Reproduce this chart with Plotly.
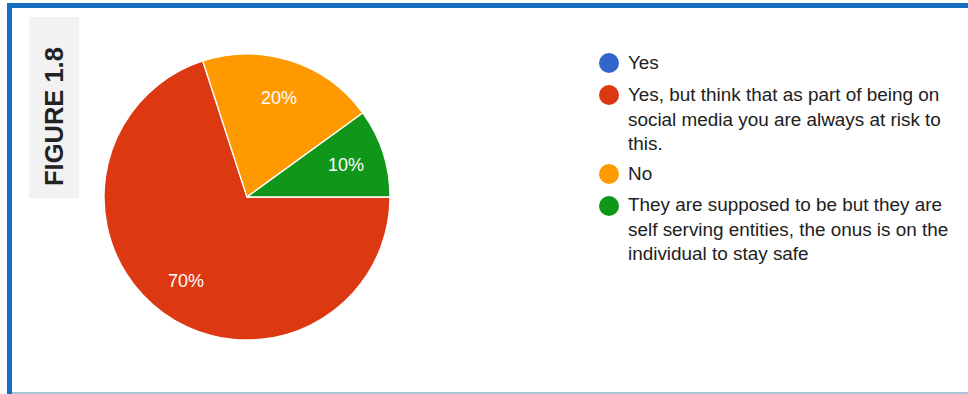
import math
import plotly.graph_objects as go

W, H = 968, 394

# Survey responses (share of respondents, %)
labels = [
    "Yes",
    "Yes, but think that as part of being on<br>social media you are always at risk to<br>this.",
    "No",
    "They are supposed to be but they are<br>self serving entities, the onus is on the<br>individual to stay safe",
]
values = [0, 70, 20, 10]
colors = ["#3366CC", "#DC3912", "#FF9900", "#109618"]
figure_label = "FIGURE 1.8"

FONT = "Arial, Liberation Sans, sans-serif"


def px_x(x):
    return x / W


def px_y(y):
    return 1 - y / H


fig = go.Figure()

# Pie: starts at 3 o'clock and runs clockwise
cx, cy, r = 247, 197, 143
fig.add_trace(go.Pie(
    labels=labels,
    values=values,
    marker=dict(colors=colors, line=dict(color="white", width=1.3)),
    sort=False,
    direction="clockwise",
    rotation=90,
    textinfo="none",
    showlegend=False,
    domain=dict(x=[px_x(cx - r), px_x(cx + r)], y=[px_y(cy + r), px_y(cy - r)]),
))

shapes = []
annotations = []

# Percentage labels at a fixed fraction of the radius along each slice's mid-angle
total = sum(values)
start = 0.0  # degrees, counter-clockwise from 3 o'clock
for v in values:
    sweep = 360.0 * v / total
    if v > 0:
        mid = math.radians(start - sweep / 2)
        lx = cx + 0.73 * r * math.cos(mid)
        ly = cy - 0.73 * r * math.sin(mid)
        annotations.append(dict(text=f"{round(100 * v / total)}%", xref="paper", yref="paper",
                                x=px_x(lx), y=px_y(ly), showarrow=False,
                                xanchor="center", yanchor="middle",
                                font=dict(family=FONT, size=18, color="white")))
    start -= sweep

# Page frame
shapes.append(dict(type="line", xref="paper", yref="paper",
                   x0=px_x(9.5), x1=px_x(9.5), y0=px_y(3), y1=px_y(394),
                   line=dict(color="#1570C4", width=5)))
shapes.append(dict(type="line", xref="paper", yref="paper",
                   x0=px_x(7), x1=px_x(975), y0=px_y(5.5), y1=px_y(5.5),
                   line=dict(color="#1570C4", width=5)))
shapes.append(dict(type="line", xref="paper", yref="paper",
                   x0=px_x(12), x1=px_x(975), y0=px_y(393), y1=px_y(393),
                   line=dict(color="#A9C6DA", width=2)))

# Side caption box
shapes.append(dict(type="rect", xref="paper", yref="paper",
                   x0=px_x(29), x1=px_x(79), y0=px_y(198), y1=px_y(17),
                   fillcolor="#F2F2F2", line=dict(width=0), layer="below"))
annotations.append(dict(text=f"<b>{figure_label}</b>", xref="paper", yref="paper",
                        x=px_x(54), y=px_y(117), textangle=-90, showarrow=False,
                        xanchor="center", yanchor="middle",
                        font=dict(family=FONT, size=25.5, color="#222222")))

# Legend with round swatches
legend_rows = [63, 95, 174, 206]
line_h = 24
for lab, col, yc in zip(labels, colors, legend_rows):
    shapes.append(dict(type="circle", xref="paper", yref="paper",
                       xsizemode="pixel", ysizemode="pixel",
                       xanchor=px_x(609), yanchor=px_y(yc),
                       x0=-10, x1=10, y0=-10, y1=10,
                       fillcolor=col, line=dict(width=0)))
    annotations.append(dict(text=lab, xref="paper", yref="paper",
                            x=px_x(626), y=px_y(yc - line_h / 2 - 1.5),
                            xanchor="left", yanchor="top", align="left",
                            showarrow=False,
                            font=dict(family=FONT, size=18.9, color="#212121")))

fig.update_layout(
    width=W, height=H,
    margin=dict(l=0, r=0, t=0, b=0),
    paper_bgcolor="white",
    plot_bgcolor="white",
    shapes=shapes,
    annotations=annotations,
)

fig.write_html("out.html")
